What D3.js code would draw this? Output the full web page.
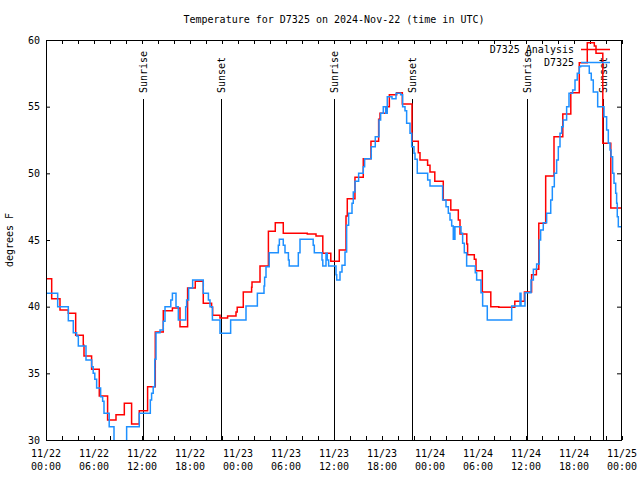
<!DOCTYPE html>
<html>
<head>
<meta charset="utf-8">
<script src="https://cdn.jsdelivr.net/npm/d3@7"></script>
<style>
  body { margin: 0; background: #fff; }
  svg { display: block; }
  text { font-family: "DejaVu Sans Mono", "Liberation Mono", monospace; font-size: 10px; fill: #000; }
</style>
</head>
<body>
<svg id="chart" width="640" height="480"></svg>
<script>
// ---- data (hours since 2024-11-22 00:00 UTC) ----
const titleText = "Temperature for D7325 on 2024-Nov-22 (time in UTC)";
const yLabel = "degrees F";
const seriesNames = ["D7325 Analysis", "D7325"];
const yTicks = [30, 35, 40, 45, 50, 55, 60];

const analysisHours = [0, 0.71, 1.75, 2.79, 3.71, 4.66, 4.75, 5.7, 6.66, 7.7, 8.75, 9.79, 10.7, 11.66, 12.7, 13.66, 14.66, 15.8, 16.75, 17.7, 18.66, 19.66, 20.7, 20.83, 21.75, 22.7, 23.75, 23.9, 24.66, 25.7, 25.75, 26.75, 27.8, 28.66, 29.66, 32.66, 33.75, 34.6, 35.6, 36.66, 37.5, 37.66, 38.62, 39.66, 40.62, 41.58, 41.75, 42.58, 42.92, 43.84, 44.54, 45.75, 46.54, 46.75, 47.7, 48.0, 48.6, 49.66, 50.6, 51.54, 51.75, 52.6, 52.7, 53.54, 53.75, 54.54, 55.6, 56.6, 58.6, 59.8, 60.7, 61.3, 61.6, 62.46, 63.5, 64.6, 65.6, 66.66, 67.66, 68.54, 68.75, 69.6, 70.6, 72];
const analysisTemps = [42.1, 40.6, 39.75, 39.5, 37.85, 37.1, 36.3, 35.3, 33.3, 31.5, 31.9, 32.75, 31.2, 32.2, 34.0, 38.1, 39.7, 39.9, 38.5, 41.4, 41.9, 40.25, 39.95, 39.35, 39.15, 39.3, 39.6, 39.95, 41.1, 41.45, 41.85, 43.05, 45.65, 46.3, 45.5, 45.45, 45.3, 44.0, 43.4, 44.25, 46.8, 48.1, 49.7, 51.1, 52.4, 54.05, 54.5, 55.0, 55.9, 56.05, 55.2, 52.4, 51.55, 51.0, 50.6, 50.1, 49.4, 48.0, 47.25, 46.5, 45.45, 44.7, 43.9, 43.55, 42.7, 41.1, 40.0, 39.95, 40.4, 41.1, 42.4, 42.8, 46.25, 49.8, 52.75, 54.45, 56.05, 58.3, 59.8, 59.55, 59.0, 52.25, 47.4, 47.4];

const stationHours = [0, 1.46, 2.79, 3.41, 3.83, 4.04, 5.0, 5.71, 5.9, 6.1, 6.33, 6.83, 7.08, 7.25, 7.9, 8.5, 10.08, 11.66, 13.04, 13.2, 13.4, 13.6, 13.75, 14.25, 14.66, 14.875, 15.6, 15.8, 16.25, 16.54, 17.46, 17.58, 17.83, 18.33, 19.66, 20.3, 20.5, 20.8, 21.75, 23.08, 25.0, 26.42, 27.25, 27.33, 27.5, 27.9, 29.04, 29.17, 29.66, 29.875, 30.3, 30.4, 31.54, 31.75, 33.4, 33.54, 34.5, 34.6, 35.0, 35.16, 35.33, 36.25, 36.34, 36.75, 37.0, 37.375, 37.58, 37.83, 38.25, 38.41, 38.625, 39.08, 39.66, 39.83, 40.66, 41.16, 41.625, 41.83, 42.16, 42.46, 42.66, 43.25, 43.75, 44.33, 44.58, 44.875, 45.08, 45.5, 45.71, 46.0, 46.125, 46.41, 47.71, 48.0, 49.58, 50.0, 50.29, 50.5, 50.71, 50.91, 50.96, 51.0, 51.04, 51.08, 51.12, 51.875, 52.08, 52.29, 52.58, 53.66, 53.83, 54.375, 54.58, 55.16, 58.21, 59.25, 59.375, 59.875, 60.625, 60.92, 61.33, 61.66, 61.83, 62.16, 62.58, 63.09, 63.29, 63.54, 63.83, 64.04, 64.25, 64.46, 64.66, 65.08, 65.375, 65.83, 66.125, 66.41, 66.66, 66.83, 67.91, 68.16, 68.41, 68.96, 69.75, 70.08, 70.29, 70.5, 70.625, 70.83, 71.0, 71.21, 71.33, 71.41, 71.54, 72];
const stationTemps = [41.0, 40.0, 38.95, 38.05, 37.8, 37.05, 36.0, 35.5, 35.0, 34.55, 33.9, 33.25, 32.9, 32.0, 31.0, 29.5, 31.0, 32.0, 33.0, 33.5, 34.0, 36.05, 38.05, 38.25, 38.9, 40.0, 40.5, 41.0, 40.0, 39.0, 40.0, 40.5, 41.4, 42.0, 41.0, 40.5, 40.0, 39.0, 38.0, 39.0, 40.05, 41.0, 41.55, 42.2, 43.0, 44.05, 44.6, 45.05, 44.6, 44.05, 43.5, 43.05, 44.05, 45.05, 44.6, 44.05, 43.5, 43.05, 44.0, 43.5, 43.05, 42.4, 42.0, 42.6, 43.1, 44.1, 46.1, 47.0, 47.75, 48.6, 49.4, 50.0, 50.5, 51.1, 52.0, 52.75, 54.0, 54.5, 55.0, 54.5, 55.75, 55.6, 56.0, 55.9, 55.0, 54.7, 53.75, 53.0, 52.0, 51.5, 51.05, 50.0, 49.5, 49.05, 48.0, 47.5, 47.0, 46.5, 46.05, 45.05, 46.0, 45.05, 46.0, 45.05, 46.0, 45.5, 44.75, 44.05, 43.05, 42.55, 42.0, 41.05, 40.05, 39.0, 40.05, 41.0, 40.05, 41.05, 42.0, 42.8, 43.2, 45.0, 45.75, 46.3, 47.0, 48.0, 49.0, 50.0, 51.0, 52.0, 53.0, 53.5, 54.0, 55.0, 56.0, 56.25, 57.0, 57.5, 58.0, 58.05, 57.5, 57.0, 56.1, 55.0, 54.25, 53.25, 52.25, 51.75, 51.25, 50.0, 49.25, 48.5, 47.75, 46.75, 46.0, 46.0];

const sunHours = [12.16, 21.84, 36.04, 45.79, 60.09, 69.66];
const sunLabels = ["Sunrise", "Sunset", "Sunrise", "Sunset", "Sunrise", "Sunset"];

// ---- setup ----
const W = 640, H = 480;
const m = { left: 46, right: 18, top: 40, bottom: 40 };
const startMs = Date.UTC(2024, 10, 22);
const toDate = h => new Date(startMs + h * 3600e3);

const svg = d3.select("#chart");
const x = d3.scaleUtc().domain([toDate(0), toDate(72)]).range([m.left, W - m.right]);
const y = d3.scaleLinear().domain([30, 60]).range([H - m.bottom, m.top]);

svg.append("rect").attr("width", W).attr("height", H).attr("fill", "#fff");

svg.append("defs").append("clipPath").attr("id", "clip")
  .append("rect").attr("x", m.left).attr("y", m.top)
  .attr("width", W - m.left - m.right).attr("height", H - m.top - m.bottom);

const ticks2h = d3.utcHour.every(2).range(toDate(0), toDate(72.5));
const ticks6h = d3.utcHour.every(6).range(toDate(0), toDate(72.5));

function styleAxis(g) {
  g.select(".domain").remove();
  g.selectAll("line").attr("stroke", "#000");
  g.attr("font-family", null).attr("font-size", null);
}

svg.append("g").attr("transform", `translate(0,${H - m.bottom})`)
  .call(d3.axisBottom(x).tickValues(ticks2h).tickSize(-4).tickFormat(""))
  .call(styleAxis);
svg.append("g").attr("transform", `translate(0,${m.top})`)
  .call(d3.axisTop(x).tickValues(ticks2h).tickSize(-4).tickFormat(""))
  .call(styleAxis);
svg.append("g").attr("transform", `translate(${m.left},0)`)
  .call(d3.axisLeft(y).tickValues(yTicks).tickSize(-4).tickPadding(6).tickFormat(d3.format("d")))
  .call(styleAxis);
svg.append("g").attr("transform", `translate(${W - m.right},0)`)
  .call(d3.axisRight(y).tickValues(yTicks).tickSize(-5).tickFormat(""))
  .call(styleAxis);

// x labels (two lines)
const fmtDate = d3.utcFormat("%m/%d"), fmtTime = d3.utcFormat("%H:%M");
const xl = svg.append("g").selectAll("text").data(ticks6h).join("text")
  .attr("text-anchor", "middle")
  .attr("x", d => x(d));
xl.append("tspan").attr("x", d => x(d)).attr("y", 457).text(d => fmtDate(d));
xl.append("tspan").attr("x", d => x(d)).attr("y", 470).text(d => fmtTime(d));

// sunrise / sunset
const sun = svg.append("g");
sunHours.forEach((h, i) => {
  const sx = Math.round(x(toDate(h))) + 0.5;
  sun.append("line").attr("x1", sx).attr("x2", sx).attr("y1", 99).attr("y2", H - m.bottom)
    .attr("stroke", "#000").attr("stroke-width", 1);
  sun.append("text").attr("transform", `translate(${sx},93) rotate(-90)`)
    .attr("dy", "0.35em").attr("text-anchor", "start").text(sunLabels[i]);
});

// data lines
const line = d3.line().x(d => x(toDate(d[0]))).y(d => y(d[1])).curve(d3.curveStepAfter);
const analysis = analysisHours.map((h, i) => [h, analysisTemps[i]]);
const station = stationHours.map((h, i) => [h, stationTemps[i]]);
const colors = ["#ff0000", "#1e90ff"];
const plot = svg.append("g").attr("clip-path", "url(#clip)");
[analysis, station].forEach((s, i) => {
  plot.append("path").datum(s).attr("d", line)
    .attr("fill", "none").attr("stroke", colors[i]).attr("stroke-width", 1.5);
});

// frame
svg.append("rect").attr("x", m.left + 0.5).attr("y", m.top + 0.5)
  .attr("width", W - m.left - m.right - 1).attr("height", H - m.top - m.bottom)
  .attr("fill", "none").attr("stroke", "#000");

// legend
const leg = svg.append("g");
seriesNames.forEach((n, i) => {
  const ly = 49.5 + i * 13;
  leg.append("text").attr("x", 574).attr("y", ly).attr("dy", "0.35em")
    .attr("text-anchor", "end").text(n);
  leg.append("line").attr("x1", 581).attr("x2", 610).attr("y1", ly).attr("y2", ly)
    .attr("stroke", colors[i]).attr("stroke-width", 1.5);
});

// title and y label
svg.append("text").attr("x", (m.left + W - m.right) / 2).attr("y", 23)
  .attr("text-anchor", "middle").text(titleText);
svg.append("text").attr("transform", `translate(13,${(m.top + H - m.bottom) / 2}) rotate(-90)`)
  .attr("text-anchor", "middle").text(yLabel);
</script>
</body>
</html>
